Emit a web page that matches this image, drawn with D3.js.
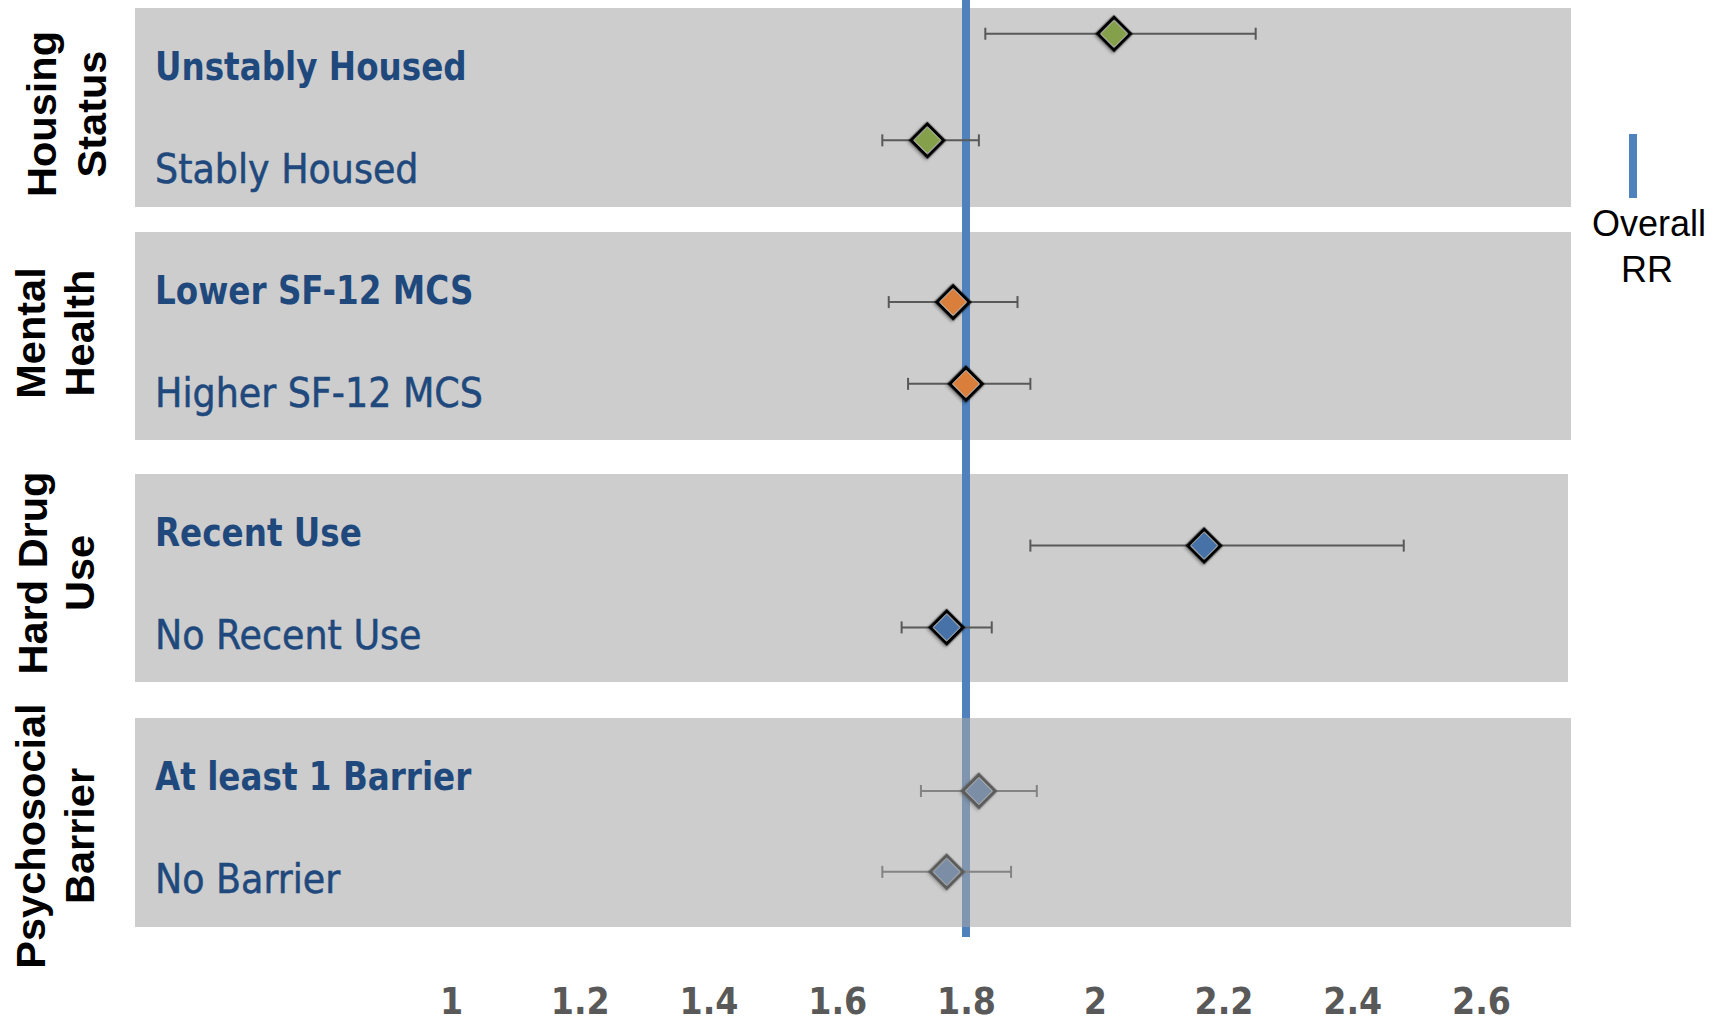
<!DOCTYPE html>
<html>
<head>
<meta charset="utf-8">
<script src="https://cdn.jsdelivr.net/npm/d3@7"></script>
<style>
  body { margin: 0; background: #fff; }
  svg { display: block; }
  .row-label { font-family: "DejaVu Sans Condensed", "DejaVu Sans", sans-serif; font-stretch: condensed; fill: #1f497d; }
  .row-label.bold { font-weight: bold; font-size: 39px; }
  .row-label.plain { font-size: 40.5px; stroke: #1f497d; stroke-width: 0.5px; }
  .group-label { font-family: "Liberation Sans", Arial, sans-serif; font-weight: bold; font-size: 41.5px; fill: #000; }
  .tick text { font-family: "DejaVu Sans Condensed", "DejaVu Sans", sans-serif; font-stretch: condensed; font-weight: bold; font-size: 37px; fill: #595959; }
  .legend-text { font-family: "Liberation Sans", Arial, sans-serif; font-size: 36px; fill: #000; }
</style>
</head>
<body>
<div id="chart"></div>
<script>
// Risk ratios by subgroup
const groupNames = [["Housing", "Status"], ["Mental", "Health"], ["Hard Drug", "Use"], ["Psychosocial", "Barrier"]];
const rowLabels = ["Unstably Housed", "Stably Housed", "Lower SF-12 MCS", "Higher SF-12 MCS",
                   "Recent Use", "No Recent Use", "At least 1 Barrier", "No Barrier"];
const rowGroup = [0, 0, 1, 1, 2, 2, 3, 3];
const rowBold = [true, false, true, false, true, false, true, false];
const rr = [2.03, 1.74, 1.78, 1.80, 2.17, 1.77, 1.82, 1.77];
const ciLow = [1.83, 1.67, 1.68, 1.71, 1.90, 1.70, 1.73, 1.67];
const ciHigh = [2.25, 1.82, 1.88, 1.90, 2.48, 1.84, 1.91, 1.87];
// vertical position of each point on the (hidden) y axis, 0..100
const yPos = [97.2, 85.6, 68.0, 59.1, 41.5, 32.6, 14.8, 6.0];
const overallRR = 1.8;
const xTicks = [1, 1.2, 1.4, 1.6, 1.8, 2, 2.2, 2.4, 2.6];
const groupColors = ["#85a04a", "#d97f3b", "#4672a8", "#4672a8"];

// layout
const width = 1719, height = 1023;
const bandLeft = 135, bandRight = 1571;
const bands = [[8, 207], [232, 440], [474, 682], [718, 927]];
const groupLabelX = [[56, 106], [45, 94], [47, 94], [45, 94]];
const groupLabelY = [114, 333, 573, 836];

const x = d3.scaleLinear().domain([1, 2.6]).range([451, 1481]);
const y = d3.scaleLinear().domain([0, 100]).range([927, 8]);

const svg = d3.select("#chart").append("svg")
    .attr("width", width)
    .attr("height", height);

const defs = svg.append("defs");
defs.append("filter")
    .attr("id", "shadow")
    .attr("x", "-50%").attr("y", "-50%").attr("width", "200%").attr("height", "200%")
    .append("feDropShadow")
    .attr("dx", 0).attr("dy", 2)
    .attr("stdDeviation", 1.5)
    .attr("flood-color", "#000")
    .attr("flood-opacity", 0.35);

// gray bands for the first three groups (the last one sits on top, see below)
svg.append("g").selectAll("rect")
    .data(bands.slice(0, 3))
    .enter().append("rect")
    .attr("x", bandLeft)
    .attr("y", d => d[0])
    .attr("width", (d, i) => bandRight - bandLeft - (i === 2 ? 3 : 0))
    .attr("height", d => d[1] - d[0])
    .attr("fill", "#cdcdcd");

// overall RR line
svg.append("line")
    .attr("x1", x(overallRR)).attr("x2", x(overallRR))
    .attr("y1", 0).attr("y2", 937)
    .attr("stroke", "#4f81bd")
    .attr("stroke-width", 8);

const rows = rr.map((v, i) => ({ i, v, lo: ciLow[i], hi: ciHigh[i], y: yPos[i], g: rowGroup[i] }));

// error bars
const err = svg.append("g").selectAll("g")
    .data(rows)
    .enter().append("g")
    .attr("stroke", "#595959")
    .attr("stroke-width", 2);
err.append("line")
    .attr("x1", d => x(d.lo)).attr("x2", d => x(d.hi))
    .attr("y1", d => y(d.y)).attr("y2", d => y(d.y));
err.append("line")
    .attr("x1", d => x(d.lo)).attr("x2", d => x(d.lo))
    .attr("y1", d => y(d.y) - 6).attr("y2", d => y(d.y) + 6);
err.append("line")
    .attr("x1", d => x(d.hi)).attr("x2", d => x(d.hi))
    .attr("y1", d => y(d.y) - 6).attr("y2", d => y(d.y) + 6);

// diamond markers
const outer = d3.symbol(d3.symbolSquare, 530)();
const inner = d3.symbol(d3.symbolSquare, 340)();
const marker = svg.append("g").selectAll("g")
    .data(rows)
    .enter().append("g")
    .attr("transform", d => `translate(${x(d.v)},${y(d.y)}) rotate(45)`);
marker.append("path")
    .attr("d", outer)
    .attr("fill", "#e6e6e6")
    .attr("stroke", "#000")
    .attr("stroke-width", 3.6)
    .attr("filter", "url(#shadow)");
marker.append("path")
    .attr("d", inner)
    .attr("fill", d => groupColors[d.g]);

// last band drawn as a translucent layer over its markers
svg.append("rect")
    .attr("x", bandLeft)
    .attr("y", bands[3][0])
    .attr("width", bandRight - bandLeft)
    .attr("height", bands[3][1] - bands[3][0])
    .attr("fill", "#a5a5a5")
    .attr("opacity", 0.557);

// row labels
svg.append("g").selectAll("text")
    .data(rowLabels)
    .enter().append("text")
    .attr("class", (d, i) => "row-label " + (rowBold[i] ? "bold" : "plain"))
    .attr("transform", (d, i) => {
        const ty = bands[rowGroup[i]][0] + (rowBold[i] ? 72 : 175);
        return `translate(155,${ty}) scale(${rowBold[i] ? 0.93 : 1},1)`;
    })
    .text(d => d);

// group labels, rotated
groupNames.forEach((lines, gi) => {
    lines.forEach((line, li) => {
        svg.append("text")
            .attr("class", "group-label")
            .attr("text-anchor", "middle")
            .attr("transform", `translate(${groupLabelX[gi][li]},${groupLabelY[gi]}) rotate(-90)`)
            .text(line);
    });
});

// x axis labels
const axis = svg.append("g")
    .attr("transform", "translate(0,937)")
    .call(d3.axisBottom(x).tickValues(xTicks).tickSize(0).tickPadding(51).tickFormat(d3.format("")));
axis.select(".domain").remove();

// legend
svg.append("line")
    .attr("x1", 1633).attr("x2", 1633)
    .attr("y1", 134).attr("y2", 198)
    .attr("stroke", "#4f81bd")
    .attr("stroke-width", 8);
svg.append("text")
    .attr("class", "legend-text")
    .attr("text-anchor", "middle")
    .attr("x", 1649).attr("y", 236)
    .text("Overall");
svg.append("text")
    .attr("class", "legend-text")
    .attr("text-anchor", "middle")
    .attr("x", 1647).attr("y", 282)
    .text("RR");
</script>
</body>
</html>
